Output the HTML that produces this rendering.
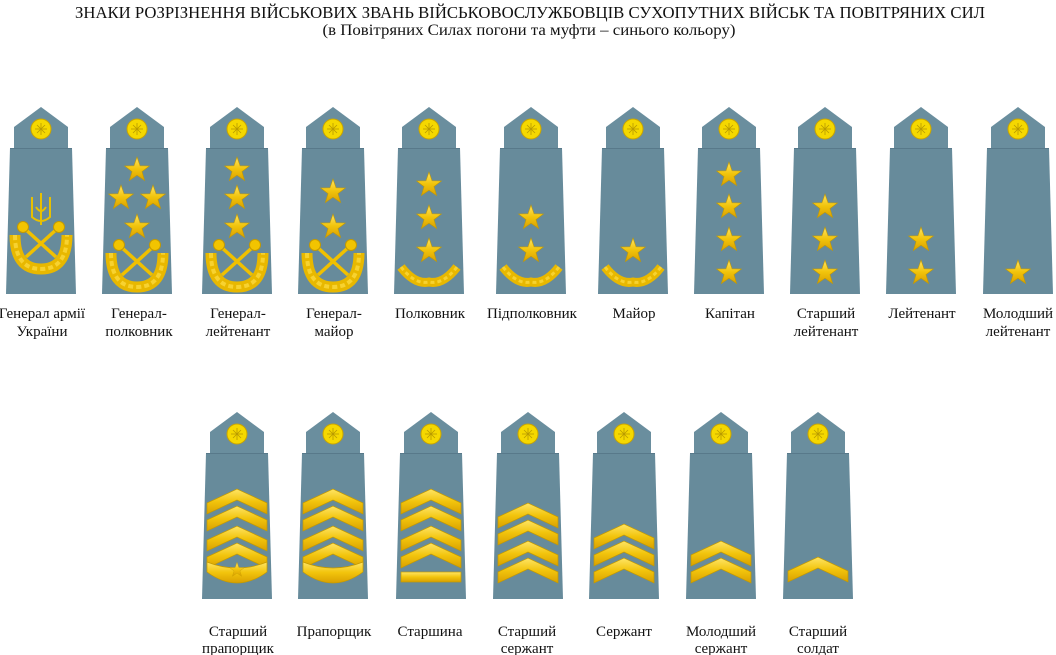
<!DOCTYPE html>
<html><head><meta charset="utf-8">
<style>
html,body{margin:0;padding:0;background:#fff;}
svg{display:block;}
text{font-family:"Liberation Serif",serif;fill:#111;}
</style></head>
<body>
<svg width="1056" height="655" viewBox="0 0 1056 655" xmlns="http://www.w3.org/2000/svg">
<defs>
<linearGradient id="g" x1="0" y1="0" x2="0" y2="1">
<stop offset="0" stop-color="#ffe566"/><stop offset="0.5" stop-color="#f2c40c"/><stop offset="1" stop-color="#d9a000"/>
</linearGradient>
<symbol id="board" overflow="visible">
<polygon points="-31,41 31,41 35,187 -35,187" fill="#678b9b"/>
<polygon points="-27,41 -27,20 0,0 27,20 27,41" fill="#6a8e9e"/>
<line x1="-31" y1="41.5" x2="31" y2="41.5" stroke="#58798a" stroke-width="1"/>
<circle cx="0" cy="22" r="10" fill="#f5d800" stroke="#c9a400" stroke-width="1"/>
<g stroke="#b89a00" stroke-width="0.8" fill="none"><line x1="-6" y1="22" x2="6" y2="22"/><line x1="0" y1="16" x2="0" y2="28"/><line x1="-4" y1="18" x2="4" y2="26"/><line x1="4" y1="18" x2="-4" y2="26"/></g>
</symbol>
<symbol id="star" overflow="visible">
<path d="M0,-13 L3.06,-4.2 12.36,-4.02 4.95,1.6 7.64,10.52 0,5.2 -7.64,10.52 -4.95,1.6 -12.36,-4.02 -3.06,-4.2Z" fill="url(#g)" stroke="#c49a00" stroke-width="0.6"/>
</symbol>
<symbol id="bigw" overflow="visible">
<path d="M-26,128 Q-26,162 0,162 Q26,162 26,128" fill="none" stroke="#e8b800" stroke-width="11"/>
<path d="M-26,128 Q-26,162 0,162 Q26,162 26,128" fill="none" stroke="#f7d230" stroke-width="4" stroke-dasharray="5 3"/>
<g stroke="#f0c000" stroke-width="3.5"><line x1="-17" y1="121" x2="15" y2="150"/><line x1="17" y1="121" x2="-15" y2="150"/></g>
<circle cx="-18" cy="120" r="5.5" fill="#f2c400" stroke="#c49a00"/>
<circle cx="18" cy="120" r="5.5" fill="#f2c400" stroke="#c49a00"/>
</symbol>
<symbol id="smw" overflow="visible">
<path d="M-28,160 Q-14,178 0,175 Q14,178 28,160" fill="none" stroke="#e8b800" stroke-width="9"/>
<path d="M-28,160 Q-14,178 0,175 Q14,178 28,160" fill="none" stroke="#f7d230" stroke-width="3" stroke-dasharray="4 3"/>
</symbol>
<symbol id="chev" overflow="visible">
<polygon points="-30,14 0,0 30,14 30,25 0,11 -30,25" fill="url(#g)" stroke="#c49a00" stroke-width="0.7"/>
</symbol>
</defs>

<text x="530" y="18" font-size="17" text-anchor="middle" textLength="910" lengthAdjust="spacingAndGlyphs">ЗНАКИ РОЗРІЗНЕННЯ ВІЙСЬКОВИХ ЗВАНЬ ВІЙСЬКОВОСЛУЖБОВЦІВ СУХОПУТНИХ ВІЙСЬК ТА ПОВІТРЯНИХ СИЛ</text>
<text x="529" y="35" font-size="16" text-anchor="middle" textLength="413" lengthAdjust="spacingAndGlyphs">(в Повітряних Силах погони та муфти – синього кольору)</text>

<g transform="translate(41,107)"><use href="#board"/>
<g fill="none" stroke="#e8c000" stroke-width="2"><path d="M0,86 V118 M-9,90 V110 Q0,118 9,110 V90 M-5,100 Q0,108 5,100"/></g>
<use href="#bigw"/></g>
<g transform="translate(137,107)"><use href="#board"/><use href="#star" x="0" y="63"/><use href="#star" x="-16" y="91"/><use href="#star" x="16" y="91"/><use href="#star" x="0" y="120"/><g transform="translate(0,18)"><use href="#bigw"/></g></g>
<g transform="translate(237,107)"><use href="#board"/><use href="#star" x="0" y="63"/><use href="#star" x="0" y="91"/><use href="#star" x="0" y="120"/><g transform="translate(0,18)"><use href="#bigw"/></g></g>
<g transform="translate(333,107)"><use href="#board"/><use href="#star" x="0" y="85"/><use href="#star" x="0" y="120"/><g transform="translate(0,18)"><use href="#bigw"/></g></g>
<g transform="translate(429,107)"><use href="#board"/><use href="#star" x="0" y="78"/><use href="#star" x="0" y="111"/><use href="#star" x="0" y="144"/><use href="#smw"/></g>
<g transform="translate(531,107)"><use href="#board"/><use href="#star" x="0" y="111"/><use href="#star" x="0" y="144"/><use href="#smw"/></g>
<g transform="translate(633,107)"><use href="#board"/><use href="#star" x="0" y="144"/><use href="#smw"/></g>
<g transform="translate(729,107)"><use href="#board"/><use href="#star" x="0" y="68"/><use href="#star" x="0" y="100"/><use href="#star" x="0" y="133"/><use href="#star" x="0" y="166"/></g>
<g transform="translate(825,107)"><use href="#board"/><use href="#star" x="0" y="100"/><use href="#star" x="0" y="133"/><use href="#star" x="0" y="166"/></g>
<g transform="translate(921,107)"><use href="#board"/><use href="#star" x="0" y="133"/><use href="#star" x="0" y="166"/></g>
<g transform="translate(1018,107)"><use href="#board"/><use href="#star" x="0" y="166"/></g>

<g font-size="15" text-anchor="middle">
<text x="42" y="318">Генерал армії</text><text x="42" y="336">України</text>
<text x="139" y="318">Генерал-</text><text x="139" y="336">полковник</text>
<text x="238" y="318">Генерал-</text><text x="238" y="336">лейтенант</text>
<text x="334" y="318">Генерал-</text><text x="334" y="336">майор</text>
<text x="430" y="318">Полковник</text>
<text x="532" y="318">Підполковник</text>
<text x="634" y="318">Майор</text>
<text x="730" y="318">Капітан</text>
<text x="826" y="318">Старший</text><text x="826" y="336">лейтенант</text>
<text x="922" y="318">Лейтенант</text>
<text x="1018" y="318">Молодший</text><text x="1018" y="336">лейтенант</text>
</g>

<g transform="translate(237,412)"><use href="#board"/>
<use href="#chev" x="0" y="77"/><use href="#chev" x="0" y="94"/><use href="#chev" x="0" y="114"/><use href="#chev" x="0" y="131"/>
<path d="M-30,150 Q0,162 30,150 L30,160 Q0,182 -30,160Z" fill="url(#g)" stroke="#c49a00" stroke-width="0.7"/>
<g transform="translate(0,158) scale(0.6)"><use href="#star"/></g></g>
<g transform="translate(333,412)"><use href="#board"/>
<use href="#chev" x="0" y="77"/><use href="#chev" x="0" y="94"/><use href="#chev" x="0" y="114"/><use href="#chev" x="0" y="131"/>
<path d="M-30,150 Q0,162 30,150 L30,160 Q0,182 -30,160Z" fill="url(#g)" stroke="#c49a00" stroke-width="0.7"/></g>
<g transform="translate(431,412)"><use href="#board"/>
<use href="#chev" x="0" y="77"/><use href="#chev" x="0" y="94"/><use href="#chev" x="0" y="114"/><use href="#chev" x="0" y="131"/>
<rect x="-30" y="160" width="60" height="10" fill="url(#g)" stroke="#c49a00" stroke-width="0.7"/></g>
<g transform="translate(528,412)"><use href="#board"/>
<use href="#chev" x="0" y="91"/><use href="#chev" x="0" y="108"/><use href="#chev" x="0" y="129"/><use href="#chev" x="0" y="146"/></g>
<g transform="translate(624,412)"><use href="#board"/>
<use href="#chev" x="0" y="112"/><use href="#chev" x="0" y="129"/><use href="#chev" x="0" y="146"/></g>
<g transform="translate(721,412)"><use href="#board"/>
<use href="#chev" x="0" y="129"/><use href="#chev" x="0" y="146"/></g>
<g transform="translate(818,412)"><use href="#board"/>
<use href="#chev" x="0" y="145"/></g>

<g font-size="15" text-anchor="middle">
<text x="238" y="636">Старший</text><text x="238" y="653">прапорщик</text>
<text x="334" y="636">Прапорщик</text>
<text x="430" y="636">Старшина</text>
<text x="527" y="636">Старший</text><text x="527" y="653">сержант</text>
<text x="624" y="636">Сержант</text>
<text x="721" y="636">Молодший</text><text x="721" y="653">сержант</text>
<text x="818" y="636">Старший</text><text x="818" y="653">солдат</text>
</g>
</svg>
</body></html>
